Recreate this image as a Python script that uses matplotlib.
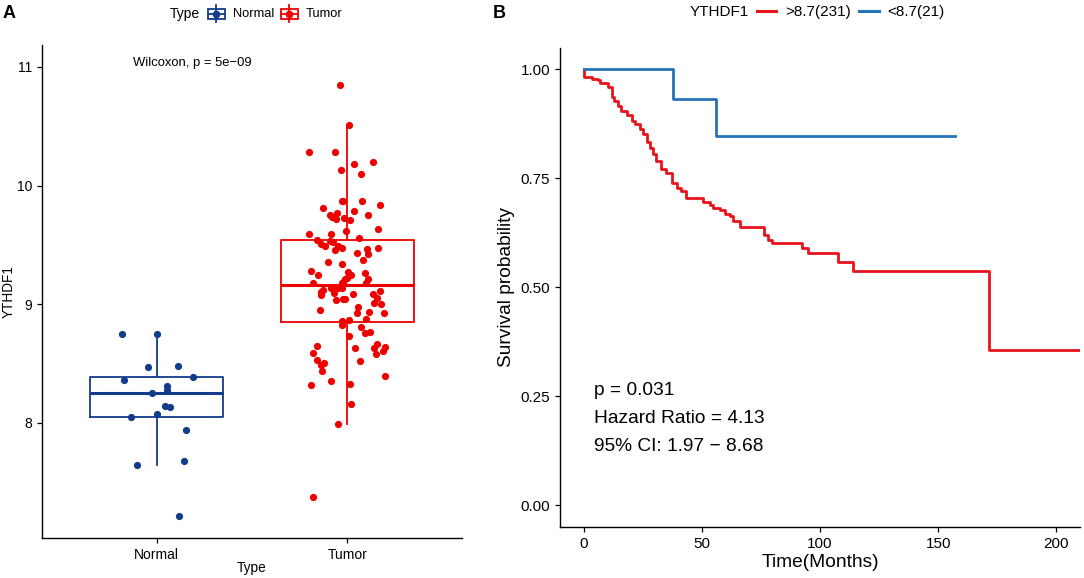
import matplotlib
matplotlib.use("Agg")
import matplotlib.pyplot as plt
from matplotlib.lines import Line2D
from matplotlib.patches import Rectangle
from matplotlib.legend_handler import HandlerBase

plt.rcParams['font.family'] = ['Liberation Sans', 'DejaVu Sans']

# ---- panel A data: YTHDF1 expression, Normal vs Tumor ----
groups = ["Normal", "Tumor"]
group_colors = ["#133C8B", "#EE0000"]

normal_vals = [8.75, 8.75, 8.469, 8.478, 8.36, 8.388, 8.309, 8.275, 8.248,
               8.141, 8.135, 8.051, 8.079, 7.941, 7.644, 7.677, 7.214]
normal_jit = [-0.181, 0.0, -0.045, 0.111, -0.169, 0.193, 0.055, 0.057, -0.025,
              0.046, 0.071, -0.135, 0.001, 0.155, -0.104, 0.142, 0.116]

tumor_vals = [10.852, 10.512, 10.287, 10.279, 10.203, 10.178, 10.133, 10.099,
              9.868, 9.870, 9.868, 9.837, 9.810, 9.790, 9.756, 9.765, 9.734,
              9.720, 9.728, 9.711, 9.756, 9.638, 9.618, 9.588, 9.590, 9.545,
              9.559, 9.512, 9.534, 9.523, 9.489, 9.489, 9.478, 9.455, 9.466,
              9.472, 9.436, 9.427, 9.377, 9.357, 9.343, 9.278, 9.250, 9.272,
              9.250, 9.267, 9.217, 9.225, 9.188, 9.217, 9.183, 9.175, 9.175,
              9.141, 9.141, 9.141, 9.118, 9.101, 9.112, 9.090, 9.095, 9.084,
              9.076, 9.051, 9.036, 9.048, 9.042, 9.008, 9.000, 8.980, 8.955,
              8.938, 8.927, 8.927, 8.876, 8.868, 8.860, 8.829, 8.809, 8.761,
              8.770, 8.736, 8.652, 8.590, 8.632, 8.629, 8.663, 8.640, 8.610,
              8.584, 8.534, 8.492, 8.505, 8.519, 8.441, 8.393, 8.323, 8.351,
              8.328, 8.163, 7.989, 7.379]
tumor_jit = [-0.040, 0.010, -0.200, -0.063, 0.134, 0.033, -0.033, 0.073,
             -0.031, -0.024, 0.075, 0.173, -0.129, 0.035, -0.089, -0.056, -0.079,
             -0.059, -0.016, 0.012, 0.106, 0.162, -0.009, -0.200, -0.084, -0.157,
             0.059, -0.141, -0.091, -0.077, -0.117, -0.049, -0.031, -0.063, 0.101,
             0.162, 0.052, 0.110, 0.080, -0.103, -0.026, -0.192, -0.156, 0.002,
             0.016, 0.094, -0.014, 0.000, -0.023, 0.106, -0.182, -0.028, 0.098,
             -0.085, -0.052, -0.031, -0.127, -0.141, 0.168, 0.133, -0.072, 0.030,
             -0.141, 0.154, -0.058, -0.025, -0.014, 0.141, 0.177, 0.054, -0.143,
             0.114, 0.049, 0.192, 0.096, 0.007, -0.026, -0.030, 0.072, 0.094,
             0.119, 0.009, -0.162, -0.182, 0.042, 0.138, 0.157, 0.195, 0.187,
             0.150, -0.159, -0.138, -0.122, 0.065, -0.131, 0.197, -0.192, -0.085,
             0.014, 0.021, -0.049, -0.183]

# box statistics
box_q1 = [8.053, 8.853]
box_med = [8.25, 9.16]
box_q3 = [8.39, 9.54]
box_lo = [7.645, 7.99]
box_hi = [8.75, 10.51]

wilcox_label = "Wilcoxon, p = 5e\u221209"

# ---- panel B data: Kaplan-Meier curves ----
high_t = [0, 0, 3.4, 6.2, 6.9, 9.0, 10.5, 11.8, 13.0, 14.6, 16.0, 18.2, 20.3,
          21.7, 23.8, 25.2, 26.6, 28.0, 29.4, 30.8, 32.9, 35.0, 37.2, 39.3,
          41.4, 43.5, 50.6, 53.5, 54.9, 57.9, 59.8, 61.9, 63.3, 66.2, 76.3,
          78.2, 79.6, 92.3, 95.1, 107.6, 113.9, 171.6, 215]
high_s = [1.0, 0.982, 0.978, 0.977, 0.970, 0.968, 0.960, 0.936, 0.928, 0.917,
          0.905, 0.896, 0.882, 0.874, 0.863, 0.851, 0.834, 0.820, 0.805, 0.790,
          0.771, 0.763, 0.740, 0.729, 0.721, 0.706, 0.696, 0.688, 0.683, 0.677,
          0.669, 0.663, 0.652, 0.638, 0.619, 0.609, 0.602, 0.591, 0.578, 0.558,
          0.537, 0.357, 0.357]
low_t = [0, 37.8, 55.8, 157.2]
low_s = [1.0, 0.933, 0.848, 0.848]
km_labels = [">8.7(231)", "<8.7(21)"]
km_colors = ["#E8141C", "#2672B8"]
stat_lines = ["p = 0.031", "Hazard Ratio = 4.13", "95% CI: 1.97 \u2212 8.68"]


class BoxKey(HandlerBase):
    # little boxplot glyph: box, whisker, median and a dot
    def create_artists(self, legend, orig, xd, yd, w, h, fontsize, trans):
        c = orig.get_color()
        cy = yd + 0.35 * h
        bh = 0.78 * fontsize
        box = Rectangle((xd, cy - bh / 2), w, bh, fill=False, ec=c,
                        lw=1.3, transform=trans)
        v = Line2D([xd + w / 2] * 2, [cy - 0.66 * fontsize, cy + 0.66 * fontsize],
                   color=c, lw=1.3, transform=trans)
        m = Line2D([xd, xd + w], [cy, cy], color=c, lw=1.3, transform=trans)
        d = Line2D([xd + w / 2], [cy], marker='o', ms=4.5, color=c,
                   lw=0, transform=trans)
        return [box, v, m, d]


fig = plt.figure(figsize=(10.84, 5.78), dpi=100)
W, H = 1084.0, 578.0

# ================= panel A =================
axA = fig.add_axes([42 / W, 1 - 538 / H, 420 / W, 493 / H])
stats = []
for i in range(2):
    stats.append(dict(q1=box_q1[i], med=box_med[i], q3=box_q3[i],
                      whislo=box_lo[i], whishi=box_hi[i], fliers=[]))
bp = axA.bxp(stats, positions=[1, 2], widths=0.7, showfliers=False,
             showcaps=False, manage_ticks=False)
for i, c in enumerate(group_colors):
    bp['boxes'][i].set(color=c, lw=1.3)
    bp['medians'][i].set(color=c, lw=2.2)
    for wl in bp['whiskers'][2 * i:2 * i + 2]:
        wl.set(color=c, lw=1.3)

axA.scatter([1 + j for j in normal_jit], normal_vals, s=27, color=group_colors[0],
            zorder=3, lw=0)
axA.scatter([2 + j for j in tumor_jit], tumor_vals, s=27, color=group_colors[1],
            zorder=3, lw=0)

axA.text(0.877, 11.03, wilcox_label, fontsize=9.4, ha='left', va='center')
axA.set_xlim(0.4, 2.6)
axA.set_ylim(7.03, 11.185)
axA.set_xticks([1, 2])
axA.set_xticklabels(groups)
axA.set_yticks([8, 9, 10, 11])
axA.tick_params(labelsize=10, length=3.5, width=0.9, direction='out')
axA.set_xlabel("Type", fontsize=9.8)
axA.set_ylabel("YTHDF1", fontsize=9.8)
axA.yaxis.set_label_coords(-0.063, 0.5)
axA.xaxis.set_label_coords(0.5, -0.046)
for s in ['top', 'right']:
    axA.spines[s].set_visible(False)
for s in ['left', 'bottom']:
    axA.spines[s].set_linewidth(1.0)

fig.text(3 / W, 1 - 14 / H, "A", fontsize=13, fontweight='bold', va='center')
fig.text(170 / W, 1 - 14 / H, "Type", fontsize=10, va='center')
hA = [Line2D([], [], color=c) for c in group_colors]
fig.legend(hA, groups, handler_map={Line2D: BoxKey()}, loc='center left',
           bbox_to_anchor=(208 / W, 1 - 14 / H), ncol=2, frameon=False,
           fontsize=9.3, handlelength=1.3, handletextpad=0.6,
           columnspacing=0.55, borderpad=0, borderaxespad=0)

# ================= panel B =================
axB = fig.add_axes([560 / W, 1 - 527 / H, 520 / W, 479.3 / H])
axB.step(high_t, high_s, where='post', color=km_colors[0], lw=2.0)
axB.step(low_t, low_s, where='post', color=km_colors[1], lw=2.0)
axB.set_xlim(-10, 210)
axB.set_ylim(-0.05, 1.05)
axB.set_xticks([0, 50, 100, 150, 200])
axB.set_yticks([0, 0.25, 0.5, 0.75, 1.0])
axB.set_yticklabels(["0.00", "0.25", "0.50", "0.75", "1.00"])
axB.tick_params(labelsize=11, length=3.5, width=0.9, direction='out')
axB.set_xlabel("Time(Months)", fontsize=13.8)
axB.set_ylabel("Survival probability", fontsize=13.8)
axB.yaxis.set_label_coords(-0.087, 0.5)
axB.xaxis.set_label_coords(0.5, -0.056)
for s in ['top', 'right']:
    axB.spines[s].set_visible(False)
for s in ['left', 'bottom']:
    axB.spines[s].set_linewidth(1.0)

for k, line in enumerate(stat_lines):
    axB.text(4.4, 0.264 - 0.065 * k, line, fontsize=13.8, ha='left', va='center')

fig.text(493 / W, 1 - 14 / H, "B", fontsize=13, fontweight='bold', va='center')
fig.text(690 / W, 1 - 12 / H, "YTHDF1", fontsize=11, va='center')
hB = [Line2D([], [], color=c, lw=2.2) for c in km_colors]
fig.legend(hB, km_labels, loc='center left', bbox_to_anchor=(757 / W, 1 - 12 / H),
           ncol=2, frameon=False, fontsize=11, handlelength=1.25,
           handletextpad=0.6, columnspacing=0.55, borderpad=0, borderaxespad=0)

fig.savefig("out.png", dpi=100)
